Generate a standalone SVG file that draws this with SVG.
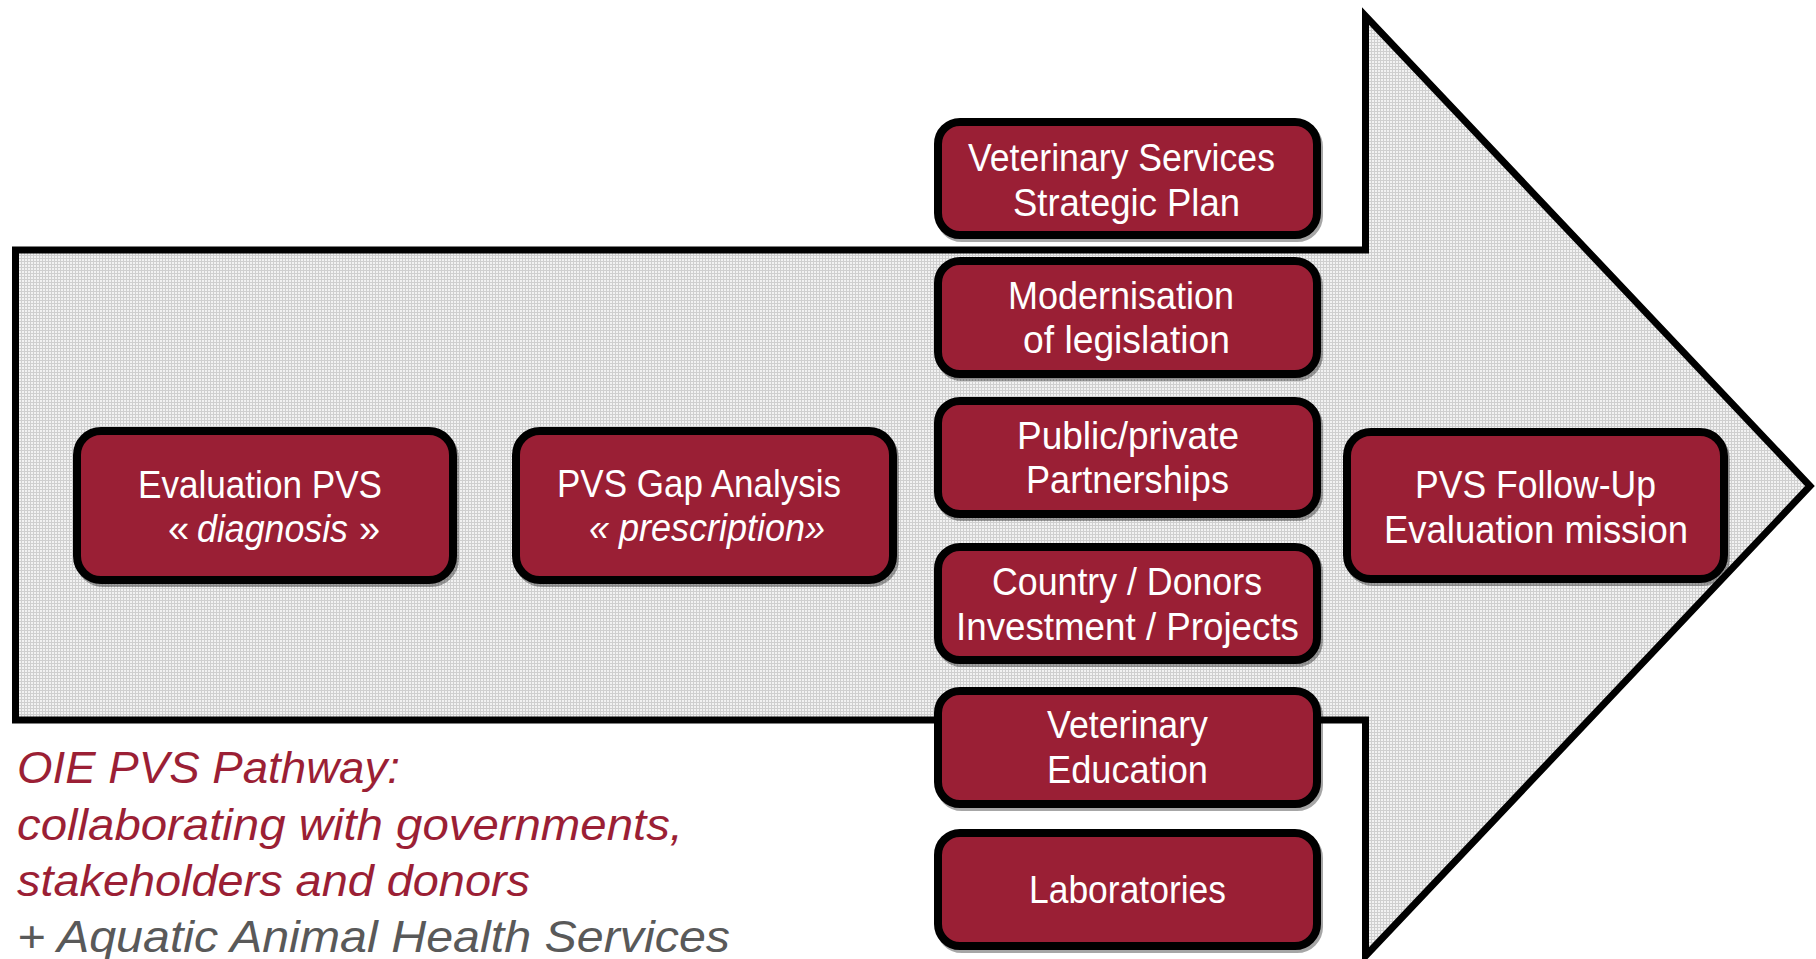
<svg xmlns="http://www.w3.org/2000/svg" width="1816" height="959" viewBox="0 0 1816 959">
  <defs>
    <pattern id="dots" width="3" height="3" patternUnits="userSpaceOnUse">
      <rect width="3" height="3" fill="#f2f2f2"/>
      <rect width="3" height="1" fill="#cfcfcf"/>
      <rect width="1" height="3" fill="#cfcfcf"/>
    </pattern>
    <style>
      .box { fill: #9a1f35; stroke: #000; stroke-width: 8; }
      .shadow { fill: none; stroke: #000; stroke-opacity: 0.35; stroke-width: 8; }
      .lbl { fill: #fff; font-family: "Liberation Sans", Arial, sans-serif; font-size: 38px; }
      .it { font-style: italic; }
      .cap { font-family: "Liberation Sans", Arial, sans-serif; font-style: italic; font-size: 45px; }
      .red { fill: #9b1f35; }
      .gray { fill: #595959; }
    </style>
  </defs>
  <rect width="1816" height="959" fill="#fff"/>

  <g id="arrow">
    <path d="M15.5,250 H1365.5 V16 L1810,486 L1365.5,956 V720 H15.5 Z" fill="url(#dots)" stroke="#000" stroke-width="7" stroke-linejoin="miter"/>
  </g>

  <g id="connectors"></g>

  <g id="caption">
    <text class="cap red" x="17" y="783" textLength="383" lengthAdjust="spacingAndGlyphs">OIE PVS Pathway:</text>
    <text class="cap red" x="17" y="840" textLength="666" lengthAdjust="spacingAndGlyphs">collaborating with governments,</text>
    <text class="cap red" x="17" y="896" textLength="513" lengthAdjust="spacingAndGlyphs">stakeholders and donors</text>
    <text class="cap gray" x="17" y="952" textLength="713" lengthAdjust="spacingAndGlyphs">+ Aquatic Animal Health Services</text>
  </g>

  <g id="evaluation">
    <rect class="shadow" x="79" y="434" width="376" height="149" rx="24"/>
    <rect class="box" x="77" y="431" width="376" height="149" rx="24"/>
    <text class="lbl" x="138" y="498" textLength="244" lengthAdjust="spacingAndGlyphs">Evaluation PVS</text>
    <text class="lbl" x="168" y="542">«</text>
    <text class="lbl it" x="197" y="542" textLength="151" lengthAdjust="spacingAndGlyphs">diagnosis</text>
    <text class="lbl" x="359" y="542">»</text>
  </g>

  <g id="gap-analysis">
    <rect class="shadow" x="518" y="434" width="377" height="149" rx="24"/>
    <rect class="box" x="516" y="431" width="377" height="149" rx="24"/>
    <text class="lbl" x="557" y="497" textLength="284" lengthAdjust="spacingAndGlyphs">PVS Gap Analysis</text>
    <text class="lbl it" x="589" y="541" textLength="236" lengthAdjust="spacingAndGlyphs">« prescription»</text>
  </g>

  <g id="strategic-plan">
    <rect class="shadow" x="940" y="125" width="379" height="113" rx="22"/>
    <rect class="box" x="938" y="122" width="379" height="113" rx="22"/>
    <text class="lbl" x="968" y="171" textLength="307" lengthAdjust="spacingAndGlyphs">Veterinary Services</text>
    <text class="lbl" x="1013" y="216" textLength="227" lengthAdjust="spacingAndGlyphs">Strategic Plan</text>
  </g>

  <g id="legislation">
    <rect class="shadow" x="940" y="264" width="379" height="113" rx="22"/>
    <rect class="box" x="938" y="261" width="379" height="113" rx="22"/>
    <text class="lbl" x="1008" y="309" textLength="226" lengthAdjust="spacingAndGlyphs">Modernisation</text>
    <text class="lbl" x="1023" y="353" textLength="207" lengthAdjust="spacingAndGlyphs">of legislation</text>
  </g>

  <g id="partnerships">
    <rect class="shadow" x="940" y="404" width="379" height="113" rx="22"/>
    <rect class="box" x="938" y="401" width="379" height="113" rx="22"/>
    <text class="lbl" x="1017" y="449" textLength="222" lengthAdjust="spacingAndGlyphs">Public/private</text>
    <text class="lbl" x="1026" y="493" textLength="203" lengthAdjust="spacingAndGlyphs">Partnerships</text>
  </g>

  <g id="investment">
    <rect class="shadow" x="940" y="550" width="379" height="113" rx="22"/>
    <rect class="box" x="938" y="547" width="379" height="113" rx="22"/>
    <text class="lbl" x="992" y="595" textLength="270" lengthAdjust="spacingAndGlyphs">Country / Donors</text>
    <text class="lbl" x="956" y="640" textLength="343" lengthAdjust="spacingAndGlyphs">Investment / Projects</text>
  </g>

  <g id="education">
    <rect class="shadow" x="940" y="694" width="379" height="113" rx="22"/>
    <rect class="box" x="938" y="691" width="379" height="113" rx="22"/>
    <text class="lbl" x="1047" y="738" textLength="161" lengthAdjust="spacingAndGlyphs">Veterinary</text>
    <text class="lbl" x="1047" y="783" textLength="161" lengthAdjust="spacingAndGlyphs">Education</text>
  </g>

  <g id="laboratories">
    <rect class="shadow" x="940" y="836" width="379" height="113" rx="22"/>
    <rect class="box" x="938" y="833" width="379" height="113" rx="22"/>
    <text class="lbl" x="1029" y="903" textLength="197" lengthAdjust="spacingAndGlyphs">Laboratories</text>
  </g>

  <g id="follow-up">
    <rect class="shadow" x="1349" y="435" width="377" height="147" rx="24"/>
    <rect class="box" x="1347" y="432" width="377" height="147" rx="24"/>
    <text class="lbl" x="1415" y="498" textLength="241" lengthAdjust="spacingAndGlyphs">PVS Follow-Up</text>
    <text class="lbl" x="1384" y="543" textLength="304" lengthAdjust="spacingAndGlyphs">Evaluation mission</text>
  </g>
</svg>
